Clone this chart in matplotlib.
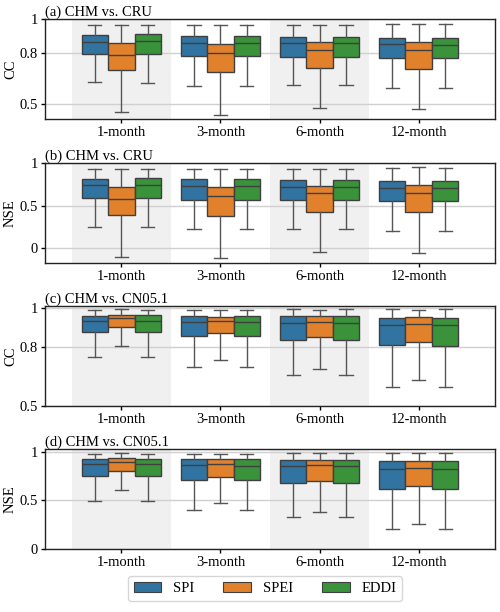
import matplotlib
matplotlib.use('Agg')
import matplotlib.pyplot as plt
from matplotlib.patches import Patch

plt.rcParams['font.family'] = ['Liberation Serif', 'DejaVu Serif']
plt.rcParams['font.size'] = 10.5

# =============================================================================
# data: [whislo, q1, median, q3, whishi] per box
# =============================================================================
scales = ["1-month", "3-month", "6-month", "12-month"]
indices = ["SPI", "SPEI", "EDDI"]
colors = ["#3274a1", "#e1812c", "#3a923a"]

titles = ["(a) CHM vs. CRU", "(b) CHM vs. CRU", "(c) CHM vs. CN05.1", "(d) CHM vs. CN05.1"]
ylabels = ["CC", "NSE", "CC", "NSE"]

# (a) CC, CHM vs CRU
cc_cru_spi = [[0.627, 0.796, 0.863, 0.908, 0.965], [0.604, 0.780, 0.859, 0.900, 0.963],
              [0.608, 0.778, 0.859, 0.894, 0.967], [0.594, 0.772, 0.851, 0.890, 0.971]]
cc_cru_spei = [[0.449, 0.696, 0.788, 0.857, 0.963], [0.435, 0.688, 0.802, 0.855, 0.963],
               [0.472, 0.708, 0.818, 0.863, 0.967], [0.466, 0.706, 0.818, 0.865, 0.973]]
cc_cru_eddi = [[0.625, 0.796, 0.868, 0.910, 0.965], [0.604, 0.780, 0.861, 0.900, 0.965],
               [0.608, 0.778, 0.859, 0.894, 0.967], [0.594, 0.770, 0.849, 0.890, 0.971]]

# (b) NSE, CHM vs CRU
nse_cru_spi = [[0.249, 0.591, 0.735, 0.813, 0.922], [0.222, 0.564, 0.724, 0.805, 0.922],
               [0.230, 0.564, 0.720, 0.794, 0.930], [0.206, 0.553, 0.700, 0.782, 0.942]]
nse_cru_spei = [[-0.097, 0.389, 0.580, 0.712, 0.922], [-0.117, 0.377, 0.607, 0.712, 0.922],
                [-0.047, 0.420, 0.646, 0.732, 0.930], [-0.054, 0.420, 0.646, 0.739, 0.949]]
nse_cru_eddi = [[0.249, 0.591, 0.739, 0.817, 0.922], [0.222, 0.568, 0.724, 0.805, 0.922],
                [0.230, 0.564, 0.720, 0.794, 0.930], [0.206, 0.553, 0.700, 0.782, 0.942]]

# (c) CC, CHM vs CN05.1
cc_cn_spi = [[0.749, 0.877, 0.935, 0.961, 0.990], [0.697, 0.855, 0.930, 0.961, 0.990],
             [0.660, 0.838, 0.925, 0.957, 0.993], [0.595, 0.809, 0.911, 0.950, 0.993]]
cc_cn_spei = [[0.807, 0.904, 0.947, 0.966, 0.993], [0.737, 0.870, 0.932, 0.956, 0.990],
              [0.687, 0.851, 0.926, 0.957, 0.990], [0.632, 0.826, 0.918, 0.956, 0.991]]
cc_cn_eddi = [[0.749, 0.877, 0.935, 0.962, 0.990], [0.697, 0.855, 0.930, 0.959, 0.990],
              [0.660, 0.838, 0.925, 0.957, 0.993], [0.595, 0.807, 0.911, 0.950, 0.993]]

# (d) NSE, CHM vs CN05.1
nse_cn_spi = [[0.495, 0.751, 0.874, 0.922, 0.980], [0.406, 0.713, 0.860, 0.922, 0.980],
              [0.328, 0.683, 0.850, 0.911, 0.986], [0.205, 0.621, 0.819, 0.901, 0.986]]
nse_cn_spei = [[0.611, 0.805, 0.894, 0.932, 0.986], [0.474, 0.744, 0.870, 0.922, 0.980],
               [0.382, 0.703, 0.860, 0.915, 0.986], [0.259, 0.652, 0.829, 0.908, 0.986]]
nse_cn_eddi = [[0.495, 0.751, 0.874, 0.922, 0.980], [0.406, 0.713, 0.857, 0.922, 0.980],
               [0.328, 0.683, 0.850, 0.911, 0.986], [0.205, 0.621, 0.819, 0.901, 0.986]]

panels = [
    [cc_cru_spi, cc_cru_spei, cc_cru_eddi],
    [nse_cru_spi, nse_cru_spei, nse_cru_eddi],
    [cc_cn_spi, cc_cn_spei, cc_cn_eddi],
    [nse_cn_spi, nse_cn_spei, nse_cn_eddi],
]

yticks = [[0.5, 0.8, 1], [0, 0.5, 1], [0.5, 0.8, 1], [0, 0.5, 1]]
ytick_labels = [["0.5", "0.8", "1"], ["0", "0.5", "1"], ["0.5", "0.8", "1"], ["0", "0.5", "1"]]
ylims = [(0.41, 1.0), (-0.167, 1.0), (0.5, 1.01), (0, 1.025)]

# =============================================================================
# figure
# =============================================================================
fig = plt.figure(figsize=(5.0, 6.12), dpi=100)
bottoms = [0.8056, 0.5708, 0.3366, 0.1025]
edge_col = "#3f3f3f"
whisk_col = "#555555"
box_w = 0.8 / 3

for p, bottom in enumerate(bottoms):
    ax = fig.add_axes([0.09, bottom, 0.9, 0.1634])

    # shaded background for 1-month and 6-month
    for k in [0, 2]:
        ax.axvspan(k - 0.5, k + 0.5, color="#f0f0f0", zorder=0, lw=0)

    for j, series in enumerate(panels[p]):
        stats = []
        for vals in series:
            lo, q1, med, q3, hi = vals
            stats.append(dict(whislo=lo, q1=q1, med=med, q3=q3, whishi=hi, fliers=[]))
        pos = [i + (j - 1) * box_w for i in range(len(scales))]
        ax.bxp(stats, positions=pos, widths=box_w, patch_artist=True, showfliers=False,
               capwidths=box_w / 2, manage_ticks=False,
               boxprops=dict(facecolor=colors[j], edgecolor=edge_col, linewidth=1.0),
               medianprops=dict(color=edge_col, linewidth=1.0),
               whiskerprops=dict(color=whisk_col, linewidth=1.0),
               capprops=dict(color=whisk_col, linewidth=1.0),
               zorder=3)

    ax.set_xlim(-0.77, 3.77)
    ax.set_ylim(*ylims[p])
    ax.set_xticks(range(len(scales)))
    ax.set_xticklabels(scales)
    ax.set_yticks(yticks[p])
    ax.set_yticklabels(ytick_labels[p])
    ax.yaxis.grid(True, color="#d0d0d0", linewidth=1.0, zorder=1)
    ax.set_axisbelow(True)
    ax.tick_params(length=3, width=1, pad=2)
    for s in ax.spines.values():
        s.set_linewidth(1.0)
        s.set_color("#222222")
    ax.set_ylabel(ylabels[p], labelpad=2)
    ax.set_title(titles[p], loc="left", pad=2, fontsize=10.5)

handles = [Patch(facecolor=c, edgecolor=edge_col, linewidth=0.8, label=n) for c, n in zip(colors, indices)]
fig.legend(handles=handles, loc="lower center", bbox_to_anchor=(0.53, 0.006), ncol=3,
           frameon=True, fancybox=True, edgecolor="#cccccc", columnspacing=2.0,
           handlelength=1.9, fontsize=10.5)

plt.savefig("out.png", dpi=100)
plt.close()
